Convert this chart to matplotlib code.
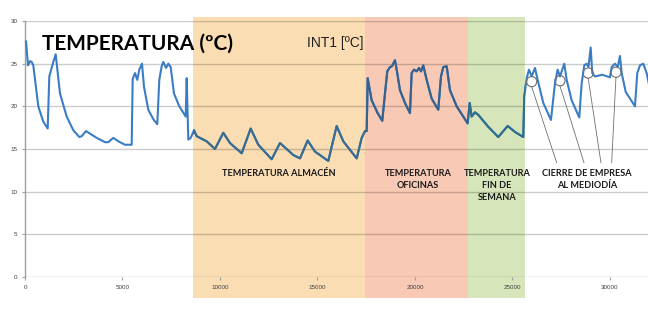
import numpy as np
import matplotlib as mpl
mpl.use("Agg")
import matplotlib.pyplot as plt
from matplotlib.patches import Rectangle, Ellipse

# Muestra (eje X) y temperatura INT1 en grados C
muestra = [51, 154, 256, 344, 426, 682, 938, 1164, 1246, 1369, 1451, 1574, 1626,
           1795, 2138, 2477, 2785, 2908, 3128, 3333, 3677, 4102, 4272, 4528, 4784,
           5128, 5471, 5523, 5641, 5759, 5861, 6000, 6102, 6323, 6579, 6784, 6887,
           7010, 7092, 7231, 7349, 7472, 7641, 7913, 8241, 8292, 8374, 8497, 8667,
           8805, 9318, 9743, 10169, 10513, 11113, 11574, 11964, 12651, 13077, 13759,
           14102, 14497, 14871, 15554, 15984, 16323, 17010, 17267, 17436, 17523,
           17574, 17779, 18087, 18323, 18461, 18579, 18718, 18820, 18974, 19061,
           19230, 19486, 19743, 19830, 19948, 20087, 20205, 20307, 20425, 20600,
           20856, 21194, 21333, 21451, 21625, 21794, 22138, 22477, 22702, 22805,
           22907, 23077, 23246, 23759, 24271, 24753, 25128, 25553, 25605, 25728,
           25846, 25984, 26153, 26292, 26579, 26974, 27179, 27317, 27435, 27656,
           27779, 28035, 28425, 28548, 28681, 28805, 28897, 29010, 29092, 29230,
           29600, 29999, 30087, 30256, 30394, 30512, 30600, 30805, 31282, 31400,
           31538, 31707, 31881, 32050]
temperatura = [27.6, 24.8, 25.3, 25.2, 24.8, 20.0, 18.2, 17.4, 23.5, 24.5, 25.2, 26.1, 25.0,
               21.5, 18.8, 17.2, 16.4, 16.5, 17.1, 16.8, 16.3, 15.8, 15.8, 16.3, 15.9,
               15.5, 15.5, 23.2, 23.9, 23.1, 24.3, 25.0, 22.3, 19.6, 18.5, 17.9, 23.1,
               24.7, 25.2, 24.5, 25.0, 24.6, 21.5, 20.0, 18.8, 23.3, 16.1, 16.3, 17.2,
               16.5, 15.9, 15.0, 16.9, 15.7, 14.5, 17.4, 15.5, 13.8, 15.7, 14.3,
               13.9, 16.0, 14.7, 13.6, 17.7, 15.9, 13.9, 16.3, 17.1, 17.1,
               23.3, 20.7, 19.2, 18.3, 21.5, 24.1, 24.6, 24.7, 25.4, 24.3,
               21.9, 20.4, 19.2, 23.9, 24.3, 24.1, 24.5, 24.1, 24.8, 23.1,
               20.9, 19.6, 23.5, 24.6, 24.7, 21.9, 20.0, 18.8, 18.0, 20.4,
               18.8, 19.3, 19.0, 17.6, 16.4, 17.7, 17.0, 16.4, 21.1, 23.3,
               24.3, 23.5, 24.5, 23.1, 20.4, 18.4, 22.7, 24.3, 23.5, 25.0,
               23.1, 20.7, 18.7, 22.7, 24.8, 25.0, 24.6, 26.9, 23.9, 23.5,
               23.7, 23.4, 24.6, 25.0, 24.6, 25.9, 23.9, 21.7, 20.0, 23.9,
               24.8, 25.0, 23.9, 22.0]

# Zonas sombreadas (inicio, fin) en unidades del eje X
zona_almacen = (8615, 17436)
zona_oficinas = (17436, 22718)
zona_finde = (22718, 25641)

# Puntos de cierre al mediodia (centro del circulo) y final de la flecha
cierre_x = [25983, 27435, 28881, 30307]
cierre_y = [22.9, 23.0, 23.9, 24.0]
flecha_x = [27266, 28666, 29537, 30086]
flecha_y = 13.4

xticks = [0, 5000, 10000, 15000, 20000, 25000, 30000]
yticks = [0, 5, 10, 15, 20, 25, 30]


def px(x, y):
	# Pixel de la imagen (origen arriba a la izquierda) a fraccion de figura
	return x / 648.0, 1 - y / 313.0


def main():
	fig = plt.figure(figsize=(6.48, 3.13), dpi=100)
	ax = fig.add_axes([25 / 648.0, 36 / 313.0, 623 / 648.0, 256 / 313.0])

	ax.set_xlim(0, 31950)
	ax.set_ylim(0, 30)

	# Zonas de color, mas altas que los ejes (cubren las etiquetas)
	zonas = [(zona_almacen, '#FADDB3', '#3A6C8C'),
	         (zona_oficinas, '#F8C9B4', '#38628C'),
	         (zona_finde, '#D6E6BA', '#306E8C')]
	rects = []
	for (x0, x1), color, _ in zonas:
		r = Rectangle((x0, -2.5), x1 - x0, 33.0, facecolor=color, edgecolor='none',
		              zorder=0, clip_on=False)
		ax.add_patch(r)
		rects.append(r)

	# Rejilla horizontal
	for y in yticks[1:]:
		ax.axhline(y, color='black', alpha=0.2, lw=1.0, zorder=1)
	ax.axhline(0, color='black', alpha=0.25, lw=1.0, zorder=1)

	# Linea de temperatura, y de nuevo mas oscura dentro de cada zona
	ax.plot(muestra, temperatura, color='#3B7DC4', lw=1.5, zorder=3, clip_on=False)
	for r, (_, _, lcolor) in zip(rects, zonas):
		l, = ax.plot(muestra, temperatura, color=lcolor, lw=1.5, zorder=4)
		l.set_clip_path(r)

	# Ejes
	for s in ['top', 'right', 'bottom']:
		ax.spines[s].set_visible(False)
	ax.spines['left'].set_color('#A0A0A0')
	ax.spines['left'].set_linewidth(1.0)
	ax.set_xticks(xticks)
	ax.set_yticks(yticks)
	ax.set_xticklabels([str(t) for t in xticks])
	ax.set_yticklabels([str(t) for t in yticks])
	ax.tick_params(axis='both', labelsize=4.5, colors='#A0A0A0', labelcolor='#404040',
	               length=2.5, width=0.8, pad=3)
	for lab in ax.get_xticklabels() + ax.get_yticklabels():
		lab.set_family('Liberation Sans')

	# Circulos y flechas del cierre al mediodia
	for cx, cy, fx in zip(cierre_x, cierre_y, flecha_x):
		ax.add_patch(Ellipse((cx, cy), 520, 1.2, facecolor='none', edgecolor='#707070',
		                     lw=0.8, zorder=5))
		ax.plot([cx, fx], [cy - 0.6, flecha_y], color='#707070', lw=0.6, zorder=5)

	# Textos
	fig.text(*px(42, 44), 'TEMPERATURA (ºC)', family='Lato', weight='bold',
	         fontsize=15, va='center', ha='left')
	fig.text(*px(335, 43), 'INT1 [ºC]', family='Liberation Sans', fontsize=10,
	         va='center', ha='center', color='#202020')

	etiquetas = [(279, 'TEMPERATURA ALMACÉN'),
	             (418, 'TEMPERATURA\nOFICINAS'),
	             (497, 'TEMPERATURA\nFIN DE\nSEMANA'),
	             (587, 'CIERRE DE EMPRESA\nAL MEDIODÍA')]
	for x, txt in etiquetas:
		fig.text(*px(x, 169), txt, family='Lato', weight='bold', fontsize=6.6,
		         va='top', ha='center', linespacing=1.4, color='#1A1A1A')

	fig.savefig('out.png', dpi=100)


if __name__ == "__main__":
	main()
